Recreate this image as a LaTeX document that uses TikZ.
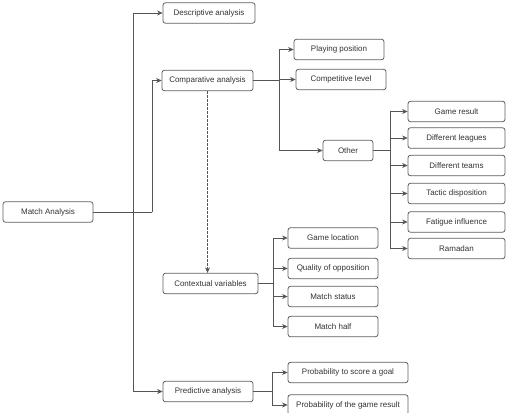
\documentclass[tikz,border=0pt]{standalone}
\usepackage{fontspec}
\setmainfont{Liberation Sans}
\usetikzlibrary{arrows.meta}
\definecolor{boxline}{HTML}{5E5E5E}
\definecolor{conn}{HTML}{555555}
\definecolor{txt}{HTML}{333333}
\tikzset{
  box/.style={draw=boxline, line width=0.8pt, rounded corners=2.5pt, fill=white,
    minimum height=20.5pt, inner sep=0pt, text=txt,
    font=\fontsize{8}{9.6}\selectfont},
  conline/.style={draw=conn, line width=0.75pt},
  arr/.style={conline, -{Stealth[length=5.5pt,width=5pt]}},
}
\begin{document}
\begin{tikzpicture}[x=1pt,y=-1pt]
\useasboundingbox (0,0) rectangle (508,412);
% level 0/1
\node[box, minimum width=90pt] (ma) at (48,212) {Match Analysis};
\node[box, minimum width=92pt] (desc) at (209,13) {Descriptive analysis};
\node[box, minimum width=91pt] (comp) at (207.5,80.5) {Comparative analysis};
\node[box, minimum width=95pt] (ctx) at (210.5,283.5) {Contextual variables};
\node[box, minimum width=90pt] (pred) at (208,391.5) {Predictive analysis};
% comparative children
\node[box, minimum width=90pt] (play) at (339,49.5) {Playing position};
\node[box, minimum width=90pt] (level) at (341,79.5) {Competitive level};
\node[box, minimum width=50pt] (other) at (348,150.5) {Other};
% other children
\node[box, minimum width=97pt] (gr) at (456.5,111.5) {Game result};
\node[box, minimum width=97pt] (dl) at (456.5,138) {Different leagues};
\node[box, minimum width=97pt] (dt) at (456.5,165.5) {Different teams};
\node[box, minimum width=97pt] (td) at (456.5,193.5) {Tactic disposition};
\node[box, minimum width=97pt] (fi) at (456.5,222) {Fatigue influence};
\node[box, minimum width=97pt] (ra) at (456.5,248.5) {Ramadan};
% contextual children
\node[box, minimum width=90pt] (gl) at (333,238) {Game location};
\node[box, minimum width=90pt] (qo) at (333,268.5) {Quality of opposition};
\node[box, minimum width=90pt] (ms) at (333,296.5) {Match status};
\node[box, minimum width=90pt] (mh) at (333,326.5) {Match half};
% predictive children
\node[box, minimum width=120pt] (ps) at (348,372.5) {Probability to score a goal};
\node[box, minimum width=120pt] (pg) at (348,405) {Probability of the game result};
% junctions
\coordinate (j0) at (152,212);
\coordinate (j1) at (133,212);
\coordinate (j2) at (279,80.5);
\coordinate (j3) at (390,150.5);
\coordinate (j4) at (273,283.5);
\coordinate (j5) at (272,391.5);
% main trunk
\draw[conline] (ma.east) -- (j0);
\draw[arr] (j0) |- (comp.west);
\draw[arr] (j1) |- (desc.west);
\draw[arr] (j1) |- (pred.west);
% comparative
\draw[conline] (comp.east) -- (j2);
\draw[arr] (j2) |- (play.west);
\draw[arr] (j2) |- (level.west);
\draw[arr] (j2) |- (other.west);
\draw[arr, dashed, dash pattern=on 2.5pt off 1.5pt] (comp.south) -- (comp.south |- ctx.north);
% other
\draw[conline] (other.east) -- (j3);
\foreach \n in {gr,dl,dt,td,fi,ra} \draw[arr] (j3) |- (\n.west);
% contextual
\draw[conline] (ctx.east) -- (j4);
\foreach \n in {gl,qo,ms,mh} \draw[arr] (j4) |- (\n.west);
% predictive
\draw[conline] (pred.east) -- (j5);
\foreach \n in {ps,pg} \draw[arr] (j5) |- (\n.west);
\end{tikzpicture}
\end{document}
